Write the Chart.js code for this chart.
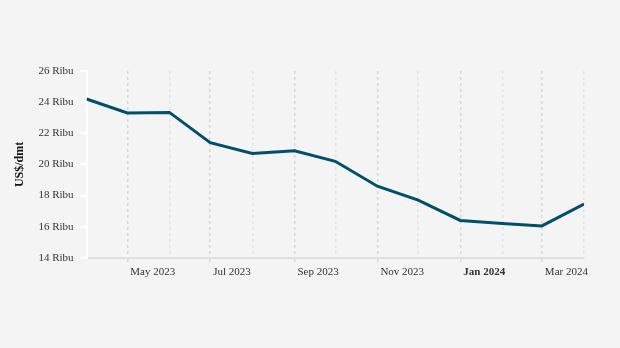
<!DOCTYPE html>
<html>
<head>
<meta charset="utf-8">
<script src="https://cdn.jsdelivr.net/npm/chart.js@4/dist/chart.umd.min.js"></script>
<style>
  html, body { margin: 0; padding: 0; background: #f4f4f4; }
  #wrap { width: 620px; height: 348px; }
</style>
</head>
<body>
<div id="wrap"><canvas id="priceChart" width="620" height="348"></canvas></div>
<script>
const months = ['2023-04', '2023-05', '2023-06', '2023-07', '2023-08', '2023-09', '2023-10',
  '2023-11', '2023-12', '2024-01', '2024-02', '2024-03', '2024-04'];
const monthNames = ['Jan', 'Feb', 'Mar', 'Apr', 'May', 'Jun', 'Jul', 'Aug', 'Sep', 'Oct', 'Nov', 'Dec'];
const prices = [24200, 23300, 23340, 21400, 20700, 20870, 20200, 18600, 17700, 16400, 16200, 16050, 17450];
const yTicks = [14000, 16000, 18000, 20000, 22000, 24000, 26000];

const start = Date.UTC(2023, 3, 1);
function dayOf(m) {
  const [y, mo] = m.split('-').map(Number);
  return (Date.UTC(y, mo - 1, 1) - start) / 86400000;
}
const days = months.map(dayOf);
const points = months.map((m, i) => ({ x: days[i], y: prices[i] }));

function tickVal(c) {
  return c && c.tick ? c.tick.value : null;
}
function isMajor(v) {
  const i = days.indexOf(v);
  return i % 2 === 1;
}
function monthLabel(v) {
  const i = days.indexOf(v);
  if (i < 0 || i % 2 === 0) return '';
  const [y, mo] = months[i].split('-').map(Number);
  return monthNames[mo - 1] + ' ' + y;
}

const serif = '"Liberation Serif", "Times New Roman", serif';

const ctx = document.getElementById('priceChart').getContext('2d');
new Chart(ctx, {
  type: 'line',
  data: {
    datasets: [{
      data: points,
      borderColor: '#00506b',
      borderWidth: 3,
      pointRadius: 0,
      tension: 0,
      fill: false
    }]
  },
  options: {
    responsive: false,
    animation: false,
    layout: { padding: { top: 71, right: 36, bottom: 66, left: 9 } },
    plugins: { legend: { display: false }, tooltip: { enabled: false } },
    scales: {
      x: {
        type: 'linear',
        min: days[0],
        max: days[days.length - 1],
        afterBuildTicks: scale => { scale.ticks = days.map(d => ({ value: d })); },
        grid: {
          color: c => isMajor(tickVal(c)) ? '#d8d8d8' : '#e4e4e4',
          tickColor: c => isMajor(tickVal(c)) ? '#d8d8d8' : 'rgba(0,0,0,0)',
          lineWidth: 1.5,
          tickLength: 5,
          tickBorderDash: [3, 3]
        },
        border: { color: '#e0e0e0', width: 2, dash: [3, 3] },
        ticks: {
          autoSkip: false,
          maxRotation: 0,
          align: 'start',
          labelOffset: 3,
          padding: 3,
          color: '#333',
          font: c => ({
            family: serif,
            size: 11,
            weight: months[days.indexOf(tickVal(c))] === '2024-01' ? 'bold' : 'normal'
          }),
          callback: v => monthLabel(v)
        }
      },
      y: {
        min: 14000,
        max: 26000,
        afterBuildTicks: scale => { scale.ticks = yTicks.map(v => ({ value: v })); },
        grid: { drawOnChartArea: false, tickColor: '#ffffff', tickLength: 6, lineWidth: 2 },
        border: { color: '#ffffff', width: 2 },
        ticks: {
          color: '#333',
          padding: 7,
          font: { family: serif, size: 11 },
          callback: v => (v / 1000) + ' Ribu'
        },
        title: {
          display: true,
          text: 'US$/dmt',
          color: '#111',
          padding: 4,
          font: { family: serif, size: 12, weight: 'bold' }
        }
      }
    }
  }
});
</script>
</body>
</html>
